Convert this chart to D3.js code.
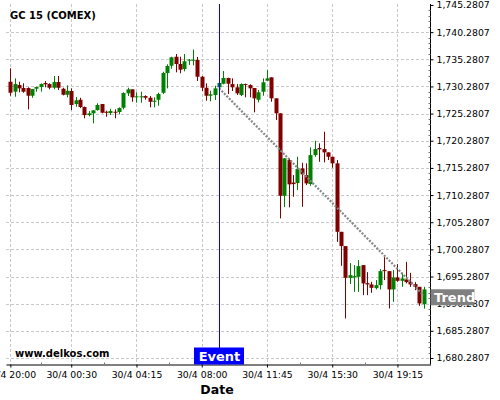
<!DOCTYPE html>
<html>
<head>
<meta charset="utf-8">
<script src="https://cdn.jsdelivr.net/npm/d3@7"></script>
<style>
  body { margin: 0; background: #fff; }
  svg { display: block; font-family: "DejaVu Sans", sans-serif; }
</style>
</head>
<body>
<svg></svg>
<script>
// 15 min candles, index based x axis
const open = [1731.15, 1729.31, 1730.54, 1729.99, 1729.99, 1728.57, 1729.86, 1730.17, 1730.91, 1730.72,
  1730.04, 1731.09, 1729.86, 1728.75, 1729.44, 1727.04, 1727.83, 1726.49, 1725.01, 1725.33,
  1725.93, 1727.04, 1725.62, 1725.38, 1725.62, 1725.57, 1726.36, 1729.01, 1729.75, 1728.27,
  1728.33, 1728.51, 1728.20, 1727.46, 1727.83, 1729.12, 1732.75, 1734.10, 1735.75, 1734.41,
  1733.49, 1735.02, 1735.02, 1735.15, 1732.07, 1730.04, 1728.57, 1728.70, 1730.12, 1730.78,
  1731.83, 1730.72, 1730.12, 1728.70, 1730.72, 1730.54, 1729.99, 1727.83, 1729.31, 1731.33,
  1731.96, 1728.09, 1725.33, 1710.15, 1716.72, 1712.58, 1712.49, 1715.19, 1713.96, 1712.30,
  1717.64, 1718.93, 1718.75, 1718.14, 1717.33, 1716.12, 1703.51, 1700.88, 1695.04, 1695.11,
  1695.22, 1697.38, 1694.06, 1693.82, 1693.14, 1693.69, 1696.46, 1696.27, 1692.90, 1695.11,
  1694.49, 1694.74, 1694.30, 1693.88, 1693.38, 1690.19]
const high = [1733.62, 1731.77, 1731.15, 1730.85, 1730.12, 1729.80, 1730.23, 1730.85, 1731.28, 1730.85,
  1732.20, 1732.20, 1730.04, 1730.49, 1729.93, 1728.33, 1728.20, 1726.58, 1725.75, 1725.88,
  1727.17, 1727.04, 1725.81, 1726.17, 1726.06, 1726.43, 1729.20, 1730.04, 1729.75, 1729.20,
  1729.31, 1728.64, 1728.51, 1728.27, 1729.12, 1732.99, 1734.35, 1735.75, 1736.25, 1735.75,
  1736.25, 1735.33, 1737.08, 1735.70, 1732.20, 1730.85, 1729.49, 1730.41, 1731.28, 1733.12,
  1731.89, 1731.77, 1730.72, 1730.85, 1730.80, 1730.67, 1729.99, 1729.62, 1731.77, 1733.30,
  1731.96, 1728.09, 1725.33, 1717.09, 1717.04, 1713.96, 1717.33, 1716.23, 1716.12, 1719.06,
  1720.28, 1719.80, 1721.94, 1718.14, 1717.33, 1716.72, 1703.51, 1700.88, 1697.75, 1697.38,
  1698.30, 1697.38, 1696.09, 1694.30, 1694.62, 1696.64, 1698.85, 1696.27, 1696.46, 1697.56,
  1695.96, 1697.99, 1695.96, 1694.25, 1693.38, 1693.38]
const low = [1728.57, 1728.38, 1729.20, 1729.12, 1726.06, 1728.20, 1729.31, 1729.31, 1730.12, 1729.75,
  1729.75, 1729.62, 1728.64, 1728.27, 1725.93, 1726.54, 1726.30, 1724.41, 1724.77, 1723.48,
  1725.81, 1725.33, 1724.70, 1725.01, 1724.41, 1725.14, 1726.06, 1728.51, 1727.46, 1727.28,
  1727.28, 1727.83, 1726.43, 1726.43, 1726.73, 1728.88, 1729.93, 1733.54, 1732.88, 1732.70,
  1733.06, 1734.23, 1734.17, 1731.28, 1729.44, 1727.65, 1727.54, 1727.78, 1729.90, 1730.67,
  1728.88, 1729.44, 1728.70, 1728.51, 1728.27, 1728.27, 1725.51, 1727.35, 1728.57, 1731.33,
  1727.46, 1724.09, 1705.98, 1708.06, 1708.01, 1709.96, 1711.20, 1708.12, 1712.12, 1711.99,
  1717.33, 1716.41, 1716.30, 1716.72, 1715.30, 1701.67, 1697.25, 1687.56, 1693.88, 1692.46,
  1692.46, 1691.85, 1691.85, 1692.28, 1692.90, 1692.90, 1694.62, 1689.40, 1690.62, 1694.30,
  1693.38, 1694.01, 1693.38, 1692.77, 1689.88, 1689.36]
const close = [1729.12, 1730.72, 1729.93, 1729.31, 1728.57, 1729.80, 1730.17, 1730.72, 1730.67, 1730.04,
  1731.09, 1730.04, 1728.75, 1729.49, 1726.86, 1727.72, 1726.49, 1725.01, 1725.33, 1725.88,
  1726.86, 1725.44, 1725.44, 1725.75, 1725.44, 1726.30, 1729.07, 1729.75, 1728.27, 1728.46,
  1728.46, 1728.20, 1727.46, 1727.65, 1728.88, 1732.75, 1734.04, 1735.64, 1734.41, 1733.36,
  1734.91, 1735.20, 1735.20, 1732.07, 1730.04, 1728.57, 1728.83, 1729.93, 1730.91, 1731.83,
  1730.78, 1730.12, 1729.01, 1730.72, 1730.54, 1729.93, 1728.09, 1729.20, 1731.04, 1731.77,
  1728.09, 1725.33, 1710.15, 1717.04, 1712.25, 1712.30, 1715.07, 1714.09, 1712.43, 1717.64,
  1718.75, 1718.69, 1718.14, 1717.33, 1716.12, 1703.51, 1700.88, 1695.04, 1695.54, 1695.35,
  1697.19, 1694.01, 1693.82, 1693.20, 1693.69, 1696.27, 1696.27, 1692.90, 1695.11, 1694.49,
  1694.93, 1694.25, 1693.82, 1693.38, 1690.32, 1692.90]

const xTickIdx = [0, 14, 29, 44, 59, 74, 89]
const xTickLabels = ["29/4 20:00", "30/4 00:30", "30/4 04:15", "30/4 08:00", "30/4 11:45", "30/4 15:30", "30/4 19:15"]
const yTicks = d3.range(0, 14).map(k => 1680.2807 + 5 * k)

const eventIdx = 48
const trendIdx = [48, 95]
const trendVal = [1729.93, 1691.83]

const width = 500
const height = 400

const svg = d3.select("svg")
    .attr("width", width)
    .attr("height", height)

const pLeft = 6, pRight = 430.5, pTop = 4, pBottom = 364.5

const xScale = d3.scaleLinear().domain([-1, 96.6]).range([pLeft, pRight])
const yScale = d3.scaleLinear().domain([1679.08, 1745.46]).range([pBottom, pTop])

const red = "#800000"
const green = "#008000"

// grid
const grid = svg.append("g")
grid.selectAll(".hg").data(yTicks.filter(v => yScale(v) > pTop + 3))
    .enter().append("line")
    .attr("x1", pLeft).attr("x2", pRight)
    .attr("y1", d => Math.round(yScale(d)) + 0.5)
    .attr("y2", d => Math.round(yScale(d)) + 0.5)
    .attr("stroke", "#c8c8c8")
    .attr("stroke-dasharray", "3,2")
grid.selectAll(".vg").data(xTickIdx)
    .enter().append("line")
    .attr("x1", d => Math.round(xScale(d)) + 0.5)
    .attr("x2", d => Math.round(xScale(d)) + 0.5)
    .attr("y1", pTop).attr("y2", pBottom)
    .attr("stroke", "#c8c8c8")
    .attr("stroke-dasharray", "3,2")

// candles
const idx = d3.range(open.length)
const candles = svg.append("g")
candles.selectAll("line").data(idx)
    .enter().append("line")
    .attr("x1", i => Math.round(xScale(i)) + 0.5)
    .attr("x2", i => Math.round(xScale(i)) + 0.5)
    .attr("y1", i => yScale(high[i]))
    .attr("y2", i => yScale(low[i]))
    .attr("stroke", i => close[i] >= open[i] ? green : red)
    .attr("stroke-width", 1)
candles.selectAll("rect").data(idx)
    .enter().append("rect")
    .attr("x", i => Math.round(xScale(i)) - 1.5)
    .attr("width", 4)
    .attr("y", i => yScale(Math.max(open[i], close[i])))
    .attr("height", i => Math.max(1, Math.abs(yScale(open[i]) - yScale(close[i]))))
    .attr("fill", i => close[i] >= open[i] ? green : red)

// trend line
svg.append("line")
    .attr("x1", xScale(trendIdx[0])).attr("y1", yScale(trendVal[0]))
    .attr("x2", xScale(trendIdx[1])).attr("y2", yScale(trendVal[1]))
    .attr("stroke", "#858585")
    .attr("stroke-width", 2.2)
    .attr("stroke-dasharray", "2,1.5")

// event line
const ex = Math.round(xScale(eventIdx)) + 0.5
svg.append("line")
    .attr("x1", ex).attr("x2", ex)
    .attr("y1", pTop).attr("y2", pBottom)
    .attr("stroke", "#0000ff")

// y axis (right)
const yAxis = d3.axisRight(yScale)
    .tickValues(yTicks)
    .tickFormat(d3.format(",.4f"))
    .tickSize(3)
    .tickSizeOuter(0)
    .tickPadding(3)
const yAxisG = svg.append("g")
    .attr("transform", `translate(${pRight},0)`)
    .call(yAxis)
yAxisG.attr("font-family", "DejaVu Sans").attr("font-size", 9.3)
yAxisG.select(".domain").attr("d", `M0,${pTop}V${pBottom}`)
yAxisG.selectAll(".tick text").attr("fill", "#000")

// minor y ticks
const yMinor = d3.range(1680, 1746).map(v => v + 0.2807).filter(v => !yTicks.some(t => Math.abs(t - v) < 0.01) && yScale(v) > pTop)
svg.append("g").selectAll("line").data(yMinor)
    .enter().append("line")
    .attr("x1", pRight - 2).attr("x2", pRight)
    .attr("y1", d => Math.round(yScale(d)) + 0.5)
    .attr("y2", d => Math.round(yScale(d)) + 0.5)
    .attr("stroke", "#777")

// x axis
const xAxis = d3.axisBottom(xScale)
    .tickValues(xTickIdx)
    .tickFormat((d, i) => xTickLabels[i])
    .tickSize(3)
    .tickSizeOuter(0)
    .tickPadding(4)
const xAxisG = svg.append("g")
    .attr("transform", `translate(0,${pBottom})`)
    .call(xAxis)
xAxisG.attr("font-family", "DejaVu Sans").attr("font-size", 9.3)
xAxisG.selectAll(".tick text").attr("fill", "#000")

// minor x ticks
const xMinor = xTickIdx.slice(0, -1).map((d, i) => (d + xTickIdx[i + 1]) / 2)
svg.append("g").selectAll("line").data(xMinor)
    .enter().append("line")
    .attr("x1", d => Math.round(xScale(d)) + 0.5)
    .attr("x2", d => Math.round(xScale(d)) + 0.5)
    .attr("y1", pBottom - 2).attr("y2", pBottom)
    .attr("stroke", "#777")

// labels
svg.append("text")
    .attr("x", 10).attr("y", 19)
    .attr("font-size", 10).attr("font-weight", "bold")
    .text("GC 15 (COMEX)")

svg.append("text")
    .attr("x", 15).attr("y", 357)
    .attr("font-size", 10).attr("font-weight", "bold")
    .text("www.delkos.com")

svg.append("text")
    .attr("x", 217).attr("y", 394)
    .attr("text-anchor", "middle")
    .attr("font-size", 12.5).attr("font-weight", "bold")
    .text("Date")

// event tag
svg.append("rect")
    .attr("x", ex - 25.5).attr("y", 347.5)
    .attr("width", 50).attr("height", 17)
    .attr("fill", "#0000ff")
svg.append("text")
    .attr("x", ex).attr("y", 361)
    .attr("text-anchor", "middle")
    .attr("fill", "#fff")
    .attr("font-size", 13).attr("font-weight", "bold")
    .text("Event")

// trend tag
const ty = yScale(trendVal[1])
svg.append("rect")
    .attr("x", pRight).attr("y", ty - 6)
    .attr("width", 44).attr("height", 16)
    .attr("fill", "#808080")
svg.append("text")
    .attr("x", pRight + 3.5).attr("y", ty + 7)
    .attr("fill", "#fff")
    .attr("font-size", 13).attr("font-weight", "bold")
    .text("Trend")
</script>
</body>
</html>
